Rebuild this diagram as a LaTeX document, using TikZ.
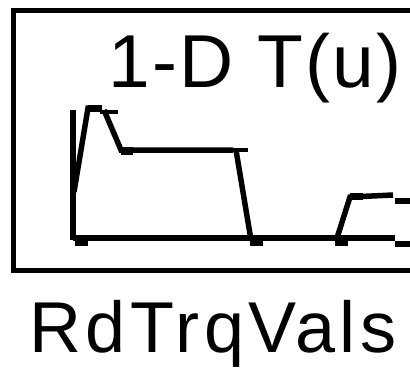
\documentclass[tikz,border=0pt]{standalone}
\usepackage{fontspec}
\setmainfont{Liberation Sans}
\begin{document}
\begin{tikzpicture}[x=1pt,y=-1pt,
  frame/.style={draw=black,line width=5pt},
  curve/.style={draw=black,line width=5.5pt,line join=miter},
  thin curve/.style={draw=black,line width=4pt},
  marker/.style={fill=black},
  label/.style={inner sep=0pt,anchor=base,font=\fontsize{72}{80}\selectfont\addfontfeature{LetterSpace=6}}]
\useasboundingbox (0,0) rectangle (410,370);
\clip (0,0) rectangle (410,370);
\fill[white] (0,0) rectangle (410,370);
% block frame
\draw[frame] (13,10) rectangle (520,270);
% title
\node[label,font=\fontsize{75}{80}\selectfont\addfontfeature{LetterSpace=3}] (title) at (255,87) {1-D T(u)};
% plot
\draw[curve] (73,110) -- (73,240);
\draw[curve] (73,238) -- (395,238);
\draw[curve] (395,244) -- (420,244);
\draw[curve] (74,192) -- (88,108) -- (100,108);
\draw[thin curve] (100,112) -- (118,112);
\draw[curve] (104,110) -- (121,150) -- (233,150);
\draw[thin curve] (233,150) -- (248,150);
\draw[curve] (236,150) -- (251,240);
\draw[curve] (337,238) -- (350,197) -- (393,195);
\draw[curve] (395,201) -- (420,201);
% markers
\fill[marker] (75,238) rectangle (88,246);
\fill[marker] (88,105) rectangle (102,112);
\fill[marker] (121,147) rectangle (133,155);
\fill[marker] (250,238) rectangle (263,246);
\fill[marker] (335,238) rectangle (348,246);
\fill[marker] (350,193) rectangle (363,200);
% block name
\node[label] (name) at (213,352) {RdTrqVals};
\end{tikzpicture}
\end{document}
